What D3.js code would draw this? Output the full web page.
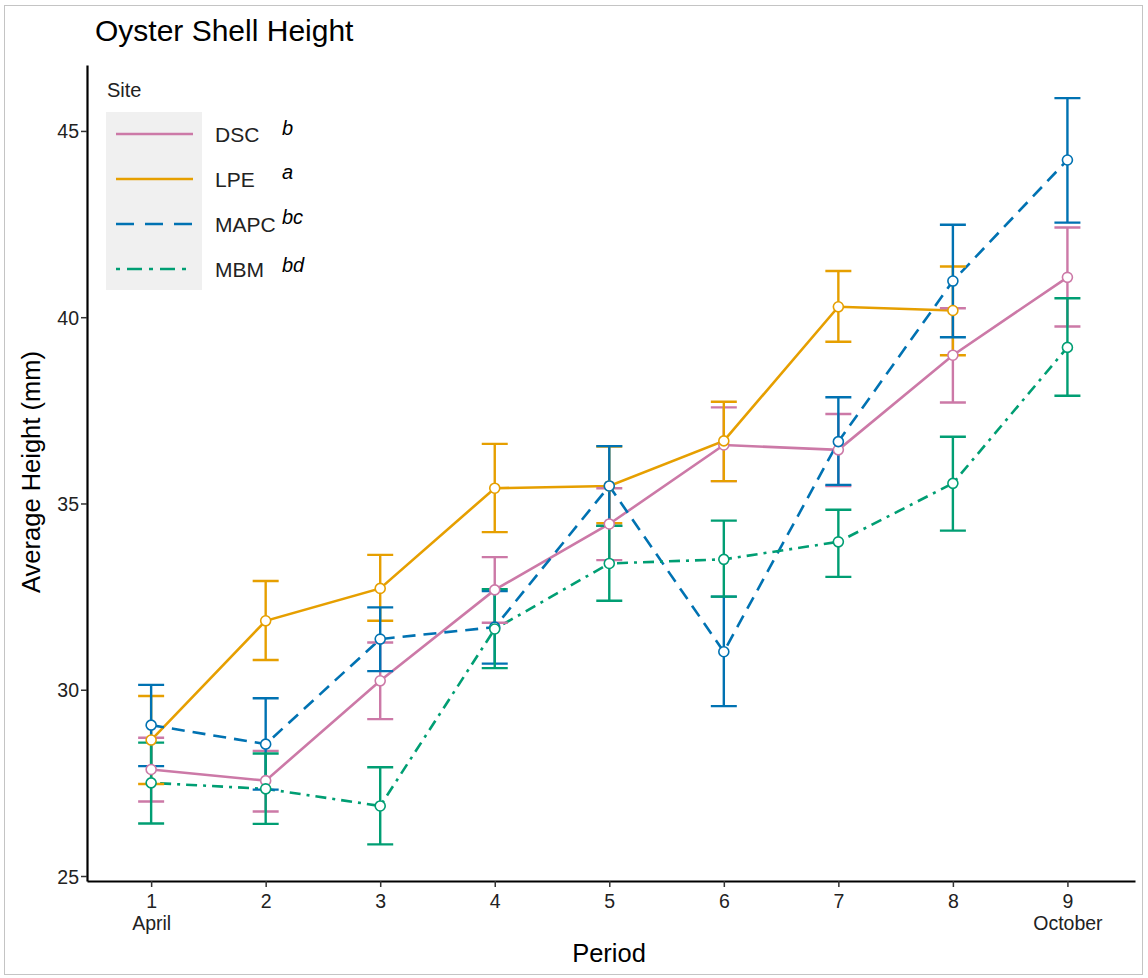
<!DOCTYPE html>
<html>
<head>
<meta charset="utf-8">
<script src="https://cdn.jsdelivr.net/npm/d3@7"></script>
<style>
  body { margin: 0; background: #fff; }
  text { font-family: "Liberation Sans", Arial, sans-serif; }
</style>
</head>
<body>
<div class="graph"></div>
<script>
// values
var periods = [1, 2, 3, 4, 5, 6, 7, 8, 9];
var periodLabels = ['1\nApril', '2', '3', '4', '5', '6', '7', '8', '9\nOctober'];
var yTicks = [25, 30, 35, 40, 45];

var sites = ['DSC', 'LPE', 'MAPC', 'MBM'];
var letters = ['b', 'a', 'bc', 'bd'];

var dscMean = [27.86, 27.56, 30.24, 32.68, 34.45, 36.57, 36.44, 38.98, 41.07];
var dscHi   = [28.71, 28.36, 31.27, 33.56, 35.41, 37.58, 37.40, 40.24, 42.41];
var dscLo   = [27.00, 26.73, 29.21, 31.80, 33.48, 35.60, 35.47, 37.71, 39.75];

var lpeMean = [28.65, 31.85, 32.72, 35.41, 35.47, 36.68, 40.28, 40.18, null];
var lpeHi   = [29.83, 32.92, 33.62, 36.60, 36.53, 37.73, 41.24, 41.36, null];
var lpeLo   = [27.47, 30.80, 31.85, 34.23, 34.47, 35.60, 39.34, 38.98, null];

var mapcMean = [29.05, 28.54, 31.36, 31.68, 35.47, 31.02, 36.66, 40.97, 44.22];
var mapcHi   = [30.13, 29.77, 32.21, 32.65, 36.54, 32.50, 37.85, 42.48, 45.88];
var mapcLo   = [27.95, 27.32, 30.50, 30.70, 34.40, 29.56, 35.50, 39.46, 42.54];

var mbmMean = [27.50, 27.34, 26.88, 31.63, 33.39, 33.50, 33.97, 35.54, 39.19];
var mbmHi   = [28.58, 28.29, 27.92, 32.70, 34.40, 34.54, 34.83, 36.79, 40.51];
var mbmLo   = [26.41, 26.40, 25.85, 30.58, 32.39, 32.50, 33.03, 34.27, 37.89];

var colors = ['#CC79A7', '#E69F00', '#0072B2', '#009E73'];
var dashes = [null, null, '13,8', '3,6,11,6'];
var keyDashes = [null, null, '18,11', '4,7,15,7'];

var series = [
  {mean: dscMean, hi: dscHi, lo: dscLo},
  {mean: lpeMean, hi: lpeHi, lo: lpeLo},
  {mean: mapcMean, hi: mapcHi, lo: mapcLo},
  {mean: mbmMean, hi: mbmHi, lo: mbmLo}
].map(function(s, k) {
  return {
    site: sites[k],
    color: colors[k],
    dash: dashes[k],
    values: periods.map(function(p, i) {
      return {period: p, mean: s.mean[i], hi: s.hi[i], lo: s.lo[i]};
    }).filter(function(d) { return d.mean != null; })
  };
});

var W = 1148, H = 978;
var svg = d3.select('.graph').append('svg')
  .attr('width', W).attr('height', H);

// light frame round the figure
svg.append('rect')
  .attr('x', 4.5).attr('y', 5.5).attr('width', 1138).attr('height', 969)
  .attr('fill', 'none').attr('stroke', '#c4c4c4').attr('stroke-width', 1);

var xScale = d3.scaleLinear().domain([0.44, 9.59]).range([87, 1135]);
var yScale = d3.scaleLinear().domain([24.866, 46.77]).range([881, 65]);

// axes
var xAxis = d3.axisBottom(xScale).tickValues(periods).tickSize(6).tickSizeOuter(0).tickFormat('');
var yAxis = d3.axisLeft(yScale).tickValues(yTicks).tickSize(6).tickSizeOuter(0).tickFormat('');

var gx = svg.append('g').attr('transform', 'translate(0,881)').call(xAxis);
var gy = svg.append('g').attr('transform', 'translate(87,0)').call(yAxis);
[gx, gy].forEach(function(g) {
  g.select('.domain').attr('stroke', '#000').attr('stroke-width', 2.2);
  g.selectAll('.tick line').attr('stroke', '#333').attr('stroke-width', 1.5);
});

gx.selectAll('.tick').each(function(d, i) {
  var lines = periodLabels[i].split('\n');
  var t = d3.select(this).append('text')
    .attr('fill', '#222').attr('font-size', 19.5).attr('text-anchor', 'middle');
  lines.forEach(function(l, j) {
    t.append('tspan').attr('x', 0).attr('y', 27 + j * 22).text(l);
  });
});
gy.selectAll('.tick').append('text')
  .attr('x', -8).attr('dy', '0.36em')
  .attr('fill', '#222').attr('font-size', 19.5).attr('text-anchor', 'end')
  .text(function(d) { return d; });

svg.append('text').attr('x', 609).attr('y', 962)
  .attr('text-anchor', 'middle').attr('font-size', 25.5).attr('fill', '#000')
  .text('Period');
svg.append('text').attr('transform', 'translate(40,472) rotate(-90)')
  .attr('text-anchor', 'middle').attr('font-size', 25.5).attr('fill', '#000')
  .text('Average Height (mm)');
svg.append('text').attr('x', 95).attr('y', 41)
  .attr('font-size', 30).attr('fill', '#000')
  .text('Oyster Shell Height');

// lines
var line = d3.line()
  .x(function(d) { return xScale(d.period); })
  .y(function(d) { return yScale(d.mean); });

svg.selectAll('.site-line').data(series).enter().append('path')
  .attr('class', 'site-line')
  .attr('d', function(s) { return line(s.values); })
  .attr('fill', 'none')
  .attr('stroke', function(s) { return s.color; })
  .attr('stroke-width', 2.6)
  .attr('stroke-dasharray', function(s) { return s.dash; });

// error bars
var capW = 13;
var eb = svg.selectAll('.eb').data(series).enter().append('g')
  .attr('class', 'eb')
  .attr('stroke', function(s) { return s.color; })
  .attr('stroke-width', 2.4);
eb.selectAll('path').data(function(s) { return s.values; }).enter().append('path')
  .attr('fill', 'none')
  .attr('d', function(d) {
    var x = xScale(d.period), yh = yScale(d.hi), yl = yScale(d.lo);
    return 'M' + (x - capW) + ',' + yh + 'H' + (x + capW) +
           'M' + x + ',' + yh + 'V' + yl +
           'M' + (x - capW) + ',' + yl + 'H' + (x + capW);
  });

// points
var pts = svg.selectAll('.pts').data(series).enter().append('g')
  .attr('class', 'pts')
  .attr('stroke', function(s) { return s.color; });
pts.selectAll('circle').data(function(s) { return s.values; }).enter().append('circle')
  .attr('cx', function(d) { return xScale(d.period); })
  .attr('cy', function(d) { return yScale(d.mean); })
  .attr('r', 5)
  .attr('fill', '#fff')
  .attr('stroke-width', 1.6);

// legend
var lg = svg.append('g');
lg.append('text').attr('x', 107).attr('y', 97).attr('font-size', 20).attr('fill', '#222').text('Site');
lg.append('rect').attr('x', 106).attr('y', 112).attr('width', 96).attr('height', 178).attr('fill', '#f0f0f0');
var keyY = [134, 179, 224, 269];
var letterDy = [1, 0, 0, 3];
series.forEach(function(s, k) {
  lg.append('line').attr('x1', 116).attr('x2', 193)
    .attr('y1', keyY[k]).attr('y2', keyY[k])
    .attr('stroke', s.color).attr('stroke-width', 2.6)
    .attr('stroke-dasharray', keyDashes[k]);
  lg.append('text').attr('x', 215).attr('y', keyY[k] + 7.5)
    .attr('font-size', 21).attr('fill', '#222').text(s.site);
  lg.append('text').attr('x', 282).attr('y', keyY[k] + letterDy[k])
    .attr('font-size', 20).attr('font-style', 'italic').attr('fill', '#000')
    .text(letters[k]);
});
</script>
</body>
</html>
